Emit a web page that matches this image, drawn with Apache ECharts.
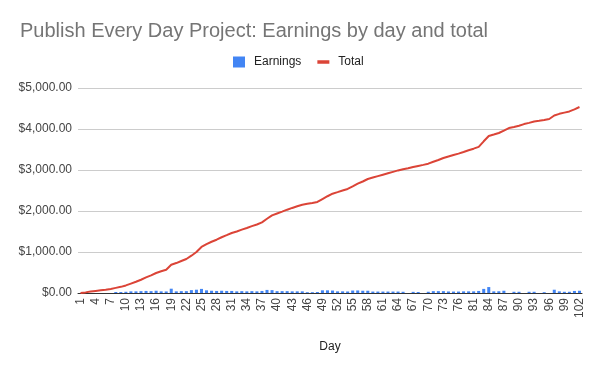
<!DOCTYPE html>
<html>
<head>
<meta charset="utf-8">
<script src="https://cdn.jsdelivr.net/npm/echarts@6/dist/echarts.min.js"></script>
<style>html,body{margin:0;padding:0;background:#fff}#c{width:600px;height:371px}</style>
</head>
<body>
<div id="c"></div>
<script>
var days = ['1','2','3','4','5','6','7','8','9','10','11','12','13','14','15','16','17','18','19','20',
'21','22','23','24','25','26','27','28','29','30','31','32','33','34','35','36','37','38','39','40',
'41','42','43','44','45','46','47','48','49','50','51','52','53','54','55','56','57','58','59','60',
'61','62','63','64','65','66','67','68','69','70','71','72','73','74','75','76','77','78',
'81','82','83','84','85','86','87','88','89','90','91','92','93','94','95','96','97','98','99','100','101','102'];

var earnings = [0,0,0,0,0,0,0,25,25,30,40,40,45,50,45,55,40,38,105,40,
45,45,70,80,100,65,55,50,55,50,50,40,45,40,45,40,50,75,70,45,
45,45,40,40,40,20,20,25,65,65,60,40,40,37,60,62,55,55,35,35,
35,35,35,35,30,0,28,25,0,30,45,45,45,37,35,35,40,40,
40,50,100,145,40,42,55,0,30,30,0,30,30,0,20,0,80,40,30,30,50,55];

var total = [0,15,35,50,65,80,100,125,150,185,230,275,324,380,430,488,530,568,690,730,
780,829,910,1000,1122,1190,1250,1300,1360,1410,1463,1500,1545,1585,1630,1670,1722,1810,1893,1940,
1985,2032,2075,2115,2154,2175,2195,2220,2290,2360,2422,2460,2500,2537,2600,2666,2720,2780,2815,2850,
2885,2920,2955,2990,3020,3045,3073,3100,3125,3154,3200,3245,3293,3330,3365,3400,3439,3480,
3520,3565,3700,3830,3865,3902,3960,4024,4050,4080,4120,4150,4185,4200,4220,4244,4330,4370,4400,4429,4480,4537];

var yTicks = [0,1000,2000,3000,4000,5000];

function money(v){
  var s = Math.round(v).toString().replace(/\B(?=(\d{3})+(?!\d))/g, ',');
  return '$' + s + '.00';
}

var FONT = 'Arial, Liberation Sans, sans-serif';
var chart = echarts.init(document.getElementById('c'), null, {renderer:'canvas'});
chart.setOption({
  animation:false,
  title:{
    text:'Publish Every Day Project: Earnings by day and total',
    left:15, top:16,
    textStyle:{fontFamily:FONT, fontSize:20, fontWeight:'normal', color:'#757575'}
  },
  legend:{
    left:228, top:51,
    itemWidth:12, itemHeight:11, itemGap:16,
    textStyle:{fontFamily:FONT, fontSize:12, color:'#222', padding:[0,0,0,4]},
    data:[
      {name:'Earnings', icon:'rect'},
      {name:'Total', icon:'path://M0,0H12V3.5H0Z'}
    ]
  },
  grid:{left:78, right:18, top:88, bottom:78, containLabel:false},
  xAxis:{
    type:'category',
    data:days,
    name:'Day',
    nameLocation:'middle',
    nameGap:48,
    nameTextStyle:{fontFamily:FONT, fontSize:12, color:'#222'},
    axisLine:{show:true, lineStyle:{color:'#333', width:1}},
    axisTick:{show:false},
    axisLabel:{interval:2, rotate:90, fontFamily:FONT, fontSize:12, color:'#444', margin:5},
    splitLine:{show:false}
  },
  yAxis:{
    type:'value',
    min:yTicks[0], max:yTicks[yTicks.length-1], interval:1000,
    axisLine:{show:false},
    axisTick:{show:false},
    axisLabel:{formatter:money, fontFamily:FONT, fontSize:12, color:'#444', margin:6},
    splitLine:{lineStyle:{color:'#cccccc', width:1}}
  },
  series:[
    {name:'Earnings', type:'bar', data:earnings, barWidth:'60%', itemStyle:{color:'#4285F4'}},
    {name:'Total', type:'line', data:total, showSymbol:false, symbol:'none', lineStyle:{color:'#DB4437', width:2}, itemStyle:{color:'#DB4437'}, z:3}
  ]
});
</script>
</body>
</html>
